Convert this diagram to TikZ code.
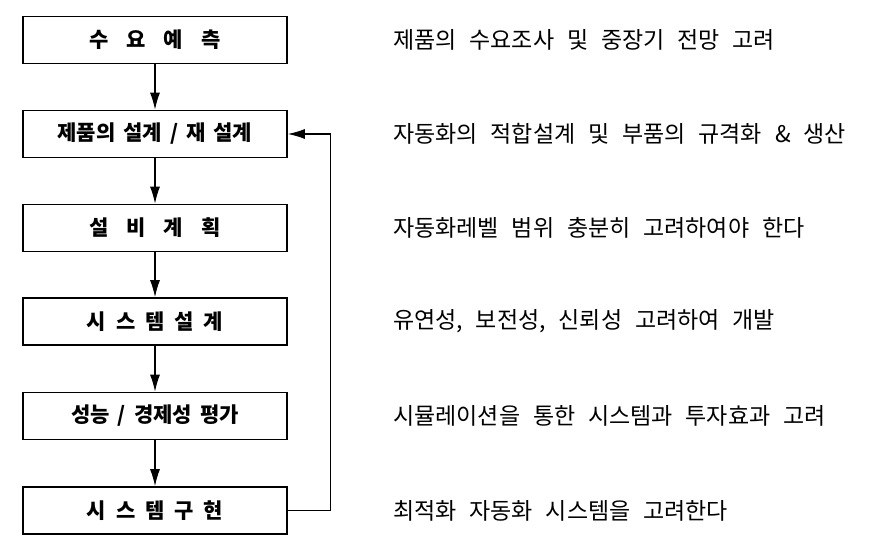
\documentclass[tikz,border=0pt]{standalone}
\usepackage{fontspec}
\setmainfont{Noto Sans CJK KR}
\newfontfamily\notefont[WordSpace=2.5]{Noto Sans CJK KR}
\usetikzlibrary{arrows.meta}

\tikzset{
  stage/.style={draw, line width=1.6pt, minimum width=264pt, minimum height=47pt,
    inner sep=0pt, font=\bfseries\fontsize{21}{21}\selectfont},
  note/.style={anchor=west, inner sep=0pt, font=\notefont\fontsize{23}{23}\selectfont},
  flow/.style={->, line width=1.2pt}
}
\newcommand{\wide}{\hspace{18pt}}
\newcommand{\narrow}{\hspace{10pt}}
\newcommand{\wsp}{\hspace{8pt}}

\begin{document}
\begin{tikzpicture}[>={Latex[length=17pt,width=10pt]}, x=1pt, y=-1pt]
	\useasboundingbox (0,0) rectangle (896,540);
%	\draw [help lines, step=20] (0,0) grid (896,540);
	% stages
	\node [stage] (demand) at (155,40)    {수\wide 요\wide 예\wide 측};
	\node [stage] (design) at (155,134)   {제품의\wsp 설계\wsp /\wsp 재\wsp 설계};
	\node [stage] (plan)   at (155,228)   {설\wide 비\wide 계\wide 획};
	\node [stage] (system) at (155,321.5) {시\narrow 스\narrow 템\narrow 설\narrow 계};
	\node [stage] (eval)   at (155,416)   {성능\wsp /\wsp 경제성\wsp 평가};
	\node [stage] (impl)   at (155,510.5) {시\narrow 스\narrow 템\narrow 구\narrow 현};
	% arrows
	\draw [flow] (demand) -- (design);
	\draw [flow] (design) -- (plan);
	\draw [flow] (plan) -- (system);
	\draw [flow] (system) -- (eval);
	\draw [flow] (eval) -- (impl);
	\draw [flow] (impl.east) -- ++(43,0) |- (design.east);
	% notes
	\node [note] (n1) at (393,40)    {제품의 수요조사 및 중장기 전망 고려};
	\node [note] (n2) at (393,134)   {자동화의 적합설계 및 부품의 규격화 \& 생산};
	\node [note] (n3) at (393,228)   {자동화레벨 범위 충분히 고려하여야 한다};
	\node [note] (n4) at (393,321.5) {유연성, 보전성, 신뢰성 고려하여 개발};
	\node [note] (n5) at (393,416)   {시뮬레이션을 통한 시스템과 투자효과 고려};
	\node [note] (n6) at (393,510.5) {최적화 자동화 시스템을 고려한다};
\end{tikzpicture}
\end{document}
